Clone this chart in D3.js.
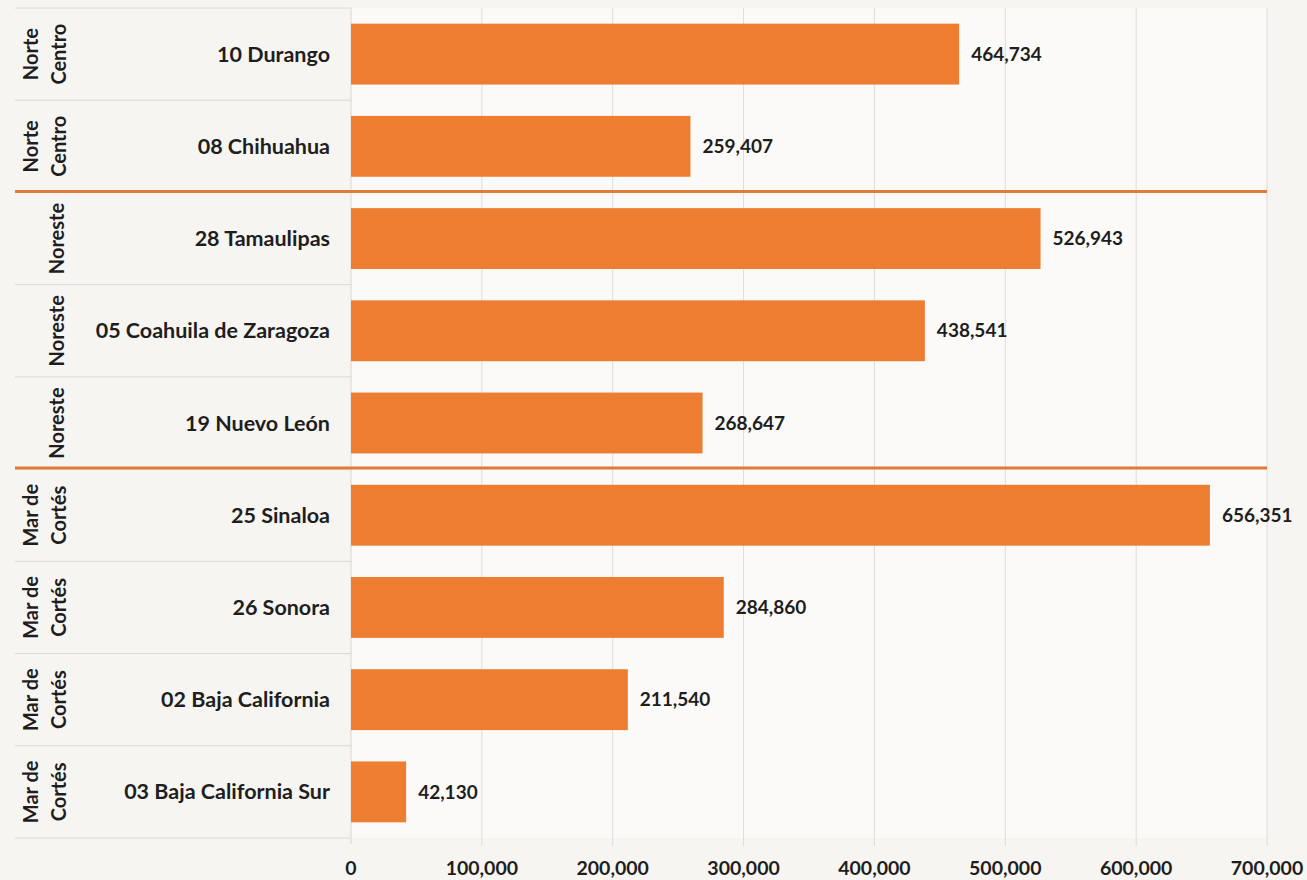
<!DOCTYPE html>
<html><head><meta charset="utf-8">
<script src="https://cdn.jsdelivr.net/npm/d3@7"></script>
<style>
html,body{margin:0;padding:0;background:#f7f5f2;}
svg{display:block;font-family:Lato,"Open Sans",sans-serif;}
</style></head><body>
<svg id="c" width="1307" height="880"></svg>
<script>
const states = ["10 Durango","08 Chihuahua","28 Tamaulipas","05 Coahuila de Zaragoza","19 Nuevo León","25 Sinaloa","26 Sonora","02 Baja California","03 Baja California Sur"];
const regions = ["Norte Centro","Norte Centro","Noreste","Noreste","Noreste","Mar de Cortés","Mar de Cortés","Mar de Cortés","Mar de Cortés"];
const regionLines = [["Norte","Centro"],["Norte","Centro"],["Noreste"],["Noreste"],["Noreste"],["Mar de","Cortés"],["Mar de","Cortés"],["Mar de","Cortés"],["Mar de","Cortés"]];
const values = [464734,259407,526943,438541,268647,656351,284860,211540,42130];
const ticks = [0,100000,200000,300000,400000,500000,600000,700000];

const svg = d3.select("#c");
const x0 = 351, x1 = 1267, yTop = 8, yBottom = 838, leftEdge = 15;
const x = d3.scaleLinear().domain([0,700000]).range([x0,x1]);
const y = d3.scaleBand().domain(states).range([yTop,yBottom]).paddingInner(0.34).paddingOuter(0.17);
const yRow = d3.scaleBand().domain(states).range([yTop,yBottom]);
const fmt = d3.format(",");
const ink = "#1e1e1e";

// subtle plot bg
svg.append("rect").attr("x",x0).attr("y",yTop).attr("width",x1-x0).attr("height",yBottom-yTop).attr("fill","#fbfaf8");

// vertical gridlines
svg.append("g").selectAll("line").data(ticks.slice(1)).join("line")
  .attr("x1",d=>x(d)).attr("x2",d=>x(d)).attr("y1",yTop).attr("y2",yBottom+8)
  .attr("stroke","#dcdcdc").attr("stroke-width",1);

// row separators in label area
const bounds = states.map(s=>yRow(s)).concat([yBottom]);
svg.append("g").selectAll("line").data(bounds).join("line")
  .attr("x1",leftEdge).attr("x2",x0).attr("y1",d=>d).attr("y2",d=>d)
  .attr("stroke","#d8d8d8").attr("stroke-width",1);

// axis line
svg.append("line").attr("x1",x0).attr("x2",x0).attr("y1",yTop).attr("y2",yBottom+6).attr("stroke","#d6d6d6");

// bars
svg.append("g").selectAll("rect").data(states).join("rect")
  .attr("x",x(0)).attr("y",d=>y(d)).attr("height",y.bandwidth())
  .attr("width",(d,i)=>x(values[i])-x(0)).attr("fill","#ED7D31");

// region separators (orange)
const sepIdx = [2,5];
svg.append("g").selectAll("line").data(sepIdx).join("line")
  .attr("x1",leftEdge).attr("x2",x1).attr("y1",i=>yRow(states[i])-1).attr("y2",i=>yRow(states[i])-1)
  .attr("stroke","#E07B39").attr("stroke-width",3);

// value labels
svg.append("g").selectAll("text").data(states).join("text")
  .attr("x",(d,i)=>x(values[i])+12).attr("y",d=>y(d)+y.bandwidth()/2)
  .attr("dy","0.35em").attr("font-size",19).attr("font-weight","bold").attr("fill",ink)
  .text((d,i)=>fmt(values[i]));

// category labels
svg.append("g").selectAll("text").data(states).join("text")
  .attr("x",x0-21).attr("y",d=>yRow(d)+yRow.bandwidth()/2)
  .attr("dy","0.35em").attr("text-anchor","end").attr("font-size",21.5).attr("font-weight","bold").attr("fill",ink)
  .text(d=>d);

// rotated region labels
const rg = svg.append("g").selectAll("g").data(states).join("g")
  .attr("transform",(d,i)=>`translate(${regionLines[i].length>1?45:57},${yRow(d)+yRow.bandwidth()/2}) rotate(-90)`);
rg.each(function(d,i){
  const lines = regionLines[i];
  const g = d3.select(this);
  lines.forEach((ln,k)=>{
    g.append("text").attr("x",0).attr("y",(k-(lines.length-1)/2)*28)
      .attr("dy","0.35em").attr("text-anchor","middle").attr("font-size",20).attr("font-weight","bold").attr("fill",ink)
      .text(ln);
  });
});

// x axis tick labels
svg.append("g").selectAll("text").data(ticks).join("text")
  .attr("x",d=>x(d)).attr("y",868).attr("dy","0.35em").attr("text-anchor","middle")
  .attr("font-size",19.5).attr("font-weight","bold").attr("fill",ink)
  .text(d=>fmt(d));
</script>
</body></html>
